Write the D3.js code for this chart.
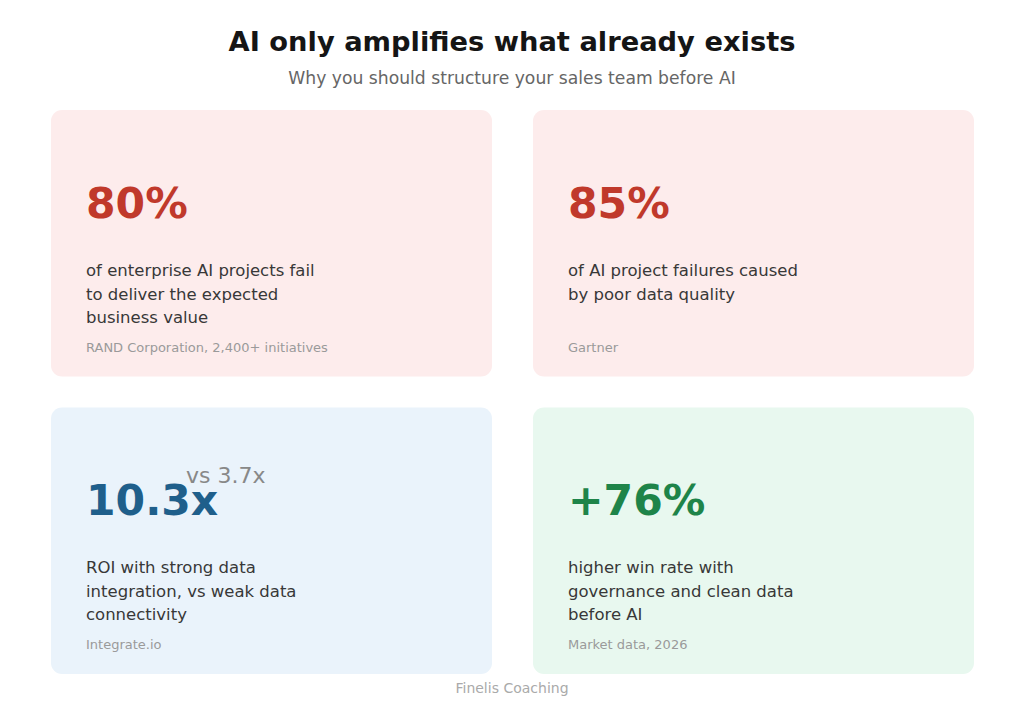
<!DOCTYPE html>
<html>
<head>
<meta charset="utf-8">
<script src="https://cdn.jsdelivr.net/npm/d3@7"></script>
<style>
  body { margin: 0; background: #fff; }
  svg { display: block; font-family: "DejaVu Sans", sans-serif; }
</style>
</head>
<body>
<svg id="chart"></svg>
<script>
const title = "AI only amplifies what already exists";
const subtitle = "Why you should structure your sales team before AI";
const footer = "Finelis Coaching";

// one entry per card, read left-to-right, top-to-bottom
const stats = ["80%", "85%", "10.3x", "+76%"];
const comparisons = ["", "", "vs 3.7x", ""];
const descriptions = [
    "of enterprise AI projects fail to deliver the expected business value",
    "of AI project failures caused by poor data quality",
    "ROI with strong data integration, vs weak data connectivity",
    "higher win rate with governance and clean data before AI"
];
const sources = ["RAND Corporation, 2,400+ initiatives", "Gartner", "Integrate.io", "Market data, 2026"];
const themes = ["red", "red", "blue", "green"];

const accent = { red: "#c0392b", blue: "#1f5f8b", green: "#1e8449" };
const fill = { red: "#fdecec", blue: "#eaf3fb", green: "#e8f8ef" };

const width = 1024, height = 714;

const svg = d3.select("#chart")
    .attr("width", width)
    .attr("height", height);

svg.append("text")
    .attr("x", width / 2)
    .attr("y", 51)
    .attr("text-anchor", "middle")
    .attr("font-size", 27.3)
    .attr("font-weight", "bold")
    .attr("fill", "#151515")
    .text(title);

svg.append("text")
    .attr("x", width / 2)
    .attr("y", 84)
    .attr("text-anchor", "middle")
    .attr("font-size", 17.2)
    .attr("fill", "#666")
    .text(subtitle);

const xScale = d3.scaleBand()
    .domain([0, 1])
    .range([51, 974])
    .paddingInner(0.085);

const yScale = d3.scaleBand()
    .domain([0, 1])
    .range([110, 674])
    .paddingInner(0.104);

// simple wrap on character count, like textwrap(width=30)
function wrap(str, n) {
    const words = str.split(" ");
    const lines = [];
    let line = "";
    words.forEach(w => {
        if (line && (line + " " + w).length > n) {
            lines.push(line);
            line = w;
        } else {
            line = line ? line + " " + w : w;
        }
    });
    if (line) lines.push(line);
    return lines;
}

const cards = svg.selectAll(".card")
    .data(stats)
    .enter().append("g")
    .attr("class", "card")
    .attr("transform", (d, i) => "translate(" + xScale(i % 2) + "," + yScale(Math.floor(i / 2)) + ")");

cards.append("rect")
    .attr("width", xScale.bandwidth())
    .attr("height", yScale.bandwidth())
    .attr("rx", 11)
    .attr("fill", (d, i) => fill[themes[i]]);

const padL = 35;

cards.append("text")
    .attr("x", padL)
    .attr("y", 108)
    .attr("font-size", 42.5)
    .attr("font-weight", "bold")
    .attr("fill", (d, i) => accent[themes[i]])
    .text(d => d);

cards.filter((d, i) => comparisons[i])
    .append("text")
    .attr("x", padL + 100)
    .attr("y", 76)
    .attr("font-size", 22)
    .attr("fill", "#888")
    .text(d => comparisons[stats.indexOf(d)]);

cards.each(function(d, i) {
    const t = d3.select(this).append("text")
        .attr("font-size", 16.5)
        .attr("fill", "#383838");
    wrap(descriptions[i], 30).forEach((ln, k) => {
        t.append("tspan")
            .attr("x", padL)
            .attr("y", 166 + k * 23.5)
            .text(ln);
    });
});

cards.append("text")
    .attr("x", padL)
    .attr("y", 242)
    .attr("font-size", 13)
    .attr("fill", "#9a9a9a")
    .text((d, i) => sources[i]);

svg.append("text")
    .attr("x", width / 2)
    .attr("y", 693)
    .attr("text-anchor", "middle")
    .attr("font-size", 14)
    .attr("fill", "#aaa")
    .text(footer);
</script>
</body>
</html>
